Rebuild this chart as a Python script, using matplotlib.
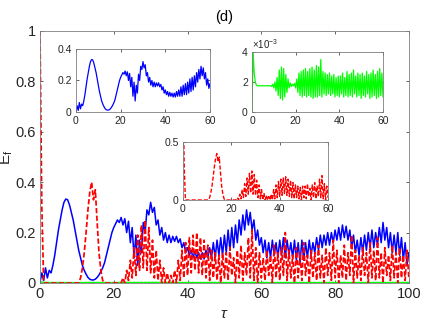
import numpy as np
import matplotlib.pyplot as plt

plt.rcParams['font.family'] = ['Liberation Sans', 'DejaVu Sans']
plt.rcParams['mathtext.fontset'] = 'custom'
plt.rcParams['mathtext.rm'] = 'Liberation Sans'
plt.rcParams['mathtext.it'] = 'Liberation Sans:italic'

# time grid, step 0.5
tau = np.arange(0, 100.5, 0.5)

# blue solid curve
blue = [
    0.00, 0.04, 0.01, 0.06, 0.02, 0.05, 0.04, 0.07, 0.11, 0.16,
    0.21, 0.25, 0.29, 0.32, 0.333, 0.33, 0.31, 0.28, 0.25, 0.21,
    0.17, 0.13, 0.10, 0.07, 0.05, 0.035, 0.022, 0.015, 0.012, 0.012,
    0.015, 0.022, 0.032, 0.045, 0.06, 0.08, 0.11, 0.14, 0.17, 0.20,
    0.22, 0.235, 0.25, 0.24, 0.26, 0.23, 0.255, 0.20, 0.245, 0.16,
    0.22, 0.10, 0.19, 0.07, 0.17, 0.12, 0.24, 0.20, 0.29, 0.27,
    0.32, 0.28, 0.30, 0.23, 0.25, 0.19, 0.22, 0.17, 0.20, 0.16,
    0.19, 0.16, 0.185, 0.165, 0.185, 0.16, 0.175, 0.14, 0.16, 0.12,
    0.14, 0.11, 0.13, 0.10, 0.125, 0.10, 0.12, 0.095, 0.12, 0.095,
    0.13, 0.10, 0.14, 0.10, 0.16, 0.10, 0.17, 0.11, 0.18, 0.11,
    0.19, 0.12, 0.21, 0.13, 0.22, 0.14, 0.23, 0.16, 0.25, 0.19,
    0.27, 0.21, 0.29, 0.23, 0.28, 0.21, 0.25, 0.17, 0.21, 0.15,
    0.18, 0.12, 0.17, 0.10, 0.16, 0.10, 0.17, 0.11, 0.16, 0.10,
    0.17, 0.11, 0.18, 0.10, 0.17, 0.11, 0.16, 0.10, 0.17, 0.09,
    0.16, 0.08, 0.17, 0.09, 0.16, 0.10, 0.17, 0.11, 0.16, 0.12,
    0.18, 0.13, 0.19, 0.14, 0.19, 0.15, 0.20, 0.15, 0.20, 0.16,
    0.21, 0.17, 0.22, 0.17, 0.23, 0.18, 0.225, 0.17, 0.21, 0.14,
    0.19, 0.12, 0.17, 0.11, 0.18, 0.12, 0.19, 0.13, 0.20, 0.14,
    0.21, 0.14, 0.20, 0.15, 0.22, 0.16, 0.24, 0.17, 0.22, 0.14,
    0.20, 0.12, 0.19, 0.12, 0.20, 0.11, 0.18, 0.09, 0.16, 0.07,
    0.12,
]

# red dashed curve
red = [
    1.0, 0.3, 0, 0, 0, 0, 0, 0, 0, 0,
    0, 0, 0, 0, 0, 0, 0, 0, 0, 0,
    0, 0, 0.02, 0.06, 0.12, 0.20, 0.29, 0.36, 0.40, 0.33,
    0.37, 0.24, 0.12, 0.05, 0.01, 0, 0, 0, 0, 0,
    0, 0, 0, 0, 0, 0.02, 0.0, 0.05, 0.01, 0.09,
    0.02, 0.14, 0.03, 0.19, 0.05, 0.23, 0.06, 0.25, 0.05, 0.22,
    0.04, 0.17, 0.02, 0.13, 0.01, 0.09, 0.0, 0.06, 0.0, 0.04,
    0.0, 0.03, 0.0, 0.05, 0.0, 0.09, 0.01, 0.13, 0.02, 0.16,
    0.03, 0.18, 0.04, 0.19, 0.05, 0.20, 0.04, 0.18, 0.03, 0.17,
    0.02, 0.15, 0.01, 0.13, 0.02, 0.12, 0.01, 0.11, 0.0, 0.12,
    0.02, 0.12, 0.01, 0.14, 0.03, 0.10, 0.0, 0.13, 0.02, 0.15,
    0.01, 0.12, 0.03, 0.18, 0.02, 0.21, 0.01, 0.14, 0.0, 0.12,
    0.02, 0.10, 0.01, 0.13, 0.03, 0.11, 0.0, 0.15, 0.02, 0.12,
    0.01, 0.14, 0.03, 0.20, 0.01, 0.13, 0.02, 0.11, 0.0, 0.14,
    0.02, 0.12, 0.01, 0.16, 0.03, 0.11, 0.0, 0.13, 0.02, 0.12,
    0.01, 0.15, 0.02, 0.11, 0.0, 0.14, 0.03, 0.12, 0.01, 0.17,
    0.02, 0.13, 0.0, 0.11, 0.02, 0.15, 0.01, 0.12, 0.03, 0.19,
    0.0, 0.13, 0.02, 0.11, 0.01, 0.14, 0.03, 0.12, 0.0, 0.16,
    0.02, 0.13, 0.01, 0.18, 0.02, 0.12, 0.0, 0.14, 0.03, 0.11,
    0.01, 0.15, 0.02, 0.12, 0.0, 0.14, 0.02, 0.11, 0.01, 0.13,
    0.02,
]

# green curve, in units of 1e-3
green_e3 = [
    0.0, 4.0, 2.6, 2.0, 1.8, 1.75, 1.75, 1.75, 1.75, 1.75,
    1.75, 1.75, 1.75, 1.75, 1.75, 1.75, 1.75, 1.75, 1.7, 1.85,
    1.6, 2.0, 1.4, 2.3, 1.1, 2.8, 0.9, 3.0, 0.8, 2.9,
    1.0, 2.5, 1.3, 2.2, 1.6, 1.95, 1.7, 1.85, 1.75, 1.9,
    1.6, 2.2, 1.3, 2.6, 1.1, 2.7, 1.0, 2.8, 1.1, 2.9,
    1.0, 2.7, 1.1, 2.9, 1.0, 3.0, 0.9, 2.8, 1.0, 3.1,
    1.0, 3.0, 1.1, 3.5, 1.0, 2.7, 1.2, 2.6, 1.1, 2.5,
    1.2, 2.6, 1.1, 2.4, 1.2, 2.5, 1.0, 2.3, 1.1, 2.4,
    1.0, 2.4, 1.2, 2.6, 1.0, 2.3, 1.1, 2.7, 1.0, 2.5,
    1.1, 2.6, 1.0, 2.8, 1.2, 2.4, 1.0, 2.6, 1.1, 2.5,
    0.9, 2.6, 1.1, 2.4, 1.0, 2.7, 1.2, 2.5, 0.9, 2.6,
    1.0, 2.8, 1.1, 2.5, 0.9, 2.7, 1.0, 2.9, 1.1, 2.6,
    1.0, 2.7, 1.1, 2.5, 1.0, 2.6, 1.2, 2.4, 1.0, 2.7,
    1.1, 2.5, 1.0, 2.6, 1.2, 2.4, 1.0, 2.7, 1.1, 2.5,
    1.0, 2.6, 1.1, 2.5, 0.9, 2.7, 1.0, 2.4, 1.2, 2.6,
    1.0, 2.5, 1.1, 2.7, 1.0, 2.4, 1.2, 2.6, 1.0, 2.5,
    1.1, 2.6, 1.0, 2.5, 1.2, 2.7, 1.0, 2.4, 1.1, 2.6,
    1.0, 2.5, 1.1, 2.6, 0.9, 2.7, 1.0, 2.5, 1.1, 2.4,
    1.2, 2.6, 1.0, 2.5, 1.1, 2.7, 1.0, 2.4, 1.2, 2.6,
    1.0, 2.5, 1.1, 2.6, 1.0, 2.4, 1.1, 2.7, 1.0, 2.5,
    1.8,
]

main_xticks = [0, 20, 40, 60, 80, 100]
main_yticks = [0, 0.2, 0.4, 0.6, 0.8, 1]
main_yticklabels = ['0', '0.2', '0.4', '0.6', '0.8', '1']
inset_xticks = [0, 20, 40, 60]
blue_yticks = [0, 0.2, 0.4]
blue_yticklabels = ['0', '0.2', '0.4']
green_yticks = [0, 2, 4]
red_yticks = [0, 0.5]
red_yticklabels = ['0', '0.5']

blue = np.array(blue)
red = np.array(red)
green_e3 = np.array(green_e3)
green = green_e3 * 1e-3

axcol = '#262626'
red_dash = (0, (3.0, 1.4))


def style_axes(ax, fs):
    ax.tick_params(direction='in', top=True, right=True, length=2.5,
                   width=0.5, colors=axcol, labelsize=fs, pad=3)
    for s in ax.spines.values():
        s.set_linewidth(0.6)
        s.set_color('#7f7f7f')


fig = plt.figure(figsize=(4.36, 3.27), dpi=100)
ax = fig.add_axes([0.0917, 0.1346, 0.846, 0.771])
ax.plot(tau, green, color='#00ff00', lw=1.0)
ax.plot(tau, blue, color='#0000ff', lw=1.1)
ax.plot(tau, red, color='#ff0000', lw=1.25, ls=red_dash)
ax.set_xlim(0, 100)
ax.set_ylim(0, 1)
ax.set_xticks(main_xticks)
ax.set_yticks(main_yticks)
ax.set_yticklabels(main_yticklabels)
style_axes(ax, 10.5)
ax.set_xlabel(r'$\tau$', fontsize=11, color=axcol, labelpad=4)
ax.set_ylabel(r'E$_\mathregular{f}$', fontsize=11, color=axcol)
ax.yaxis.set_label_coords(-0.068, 0.5)
ax.set_title('(d)', fontsize=10.5, color='black', pad=7)

# inset: blue
a1 = fig.add_axes([0.1743, 0.6575, 0.3073, 0.1927])
a1.plot(tau[tau <= 60], blue[tau <= 60], color='#0000ff', lw=0.9)
a1.set_xlim(0, 60)
a1.set_ylim(0, 0.4)
a1.set_xticks(inset_xticks)
a1.set_yticks(blue_yticks)
a1.set_yticklabels(blue_yticklabels)
style_axes(a1, 7.5)

# inset: green
a2 = fig.add_axes([0.578, 0.6575, 0.3004, 0.1835])
a2.plot(tau[tau <= 60], green_e3[tau <= 60], color='#00ff00', lw=0.9)
a2.set_xlim(0, 60)
a2.set_ylim(0, 4)
a2.set_xticks(inset_xticks)
a2.set_yticks(green_yticks)
style_axes(a2, 7.5)
a2.text(0.0, 1.02, r'$\times$10$^{-3}$', transform=a2.transAxes,
        fontsize=7, color=axcol, ha='left', va='bottom')

# inset: red
a3 = fig.add_axes([0.4197, 0.3884, 0.3326, 0.1774])
a3.plot(tau[tau <= 60], red[tau <= 60], color='#ff0000', lw=1.0, ls=red_dash)
a3.set_xlim(0, 60)
a3.set_ylim(0, 0.5)
a3.set_xticks(inset_xticks)
a3.set_yticks(red_yticks)
a3.set_yticklabels(red_yticklabels)
style_axes(a3, 7.5)

fig.savefig('out.png', dpi=100)
